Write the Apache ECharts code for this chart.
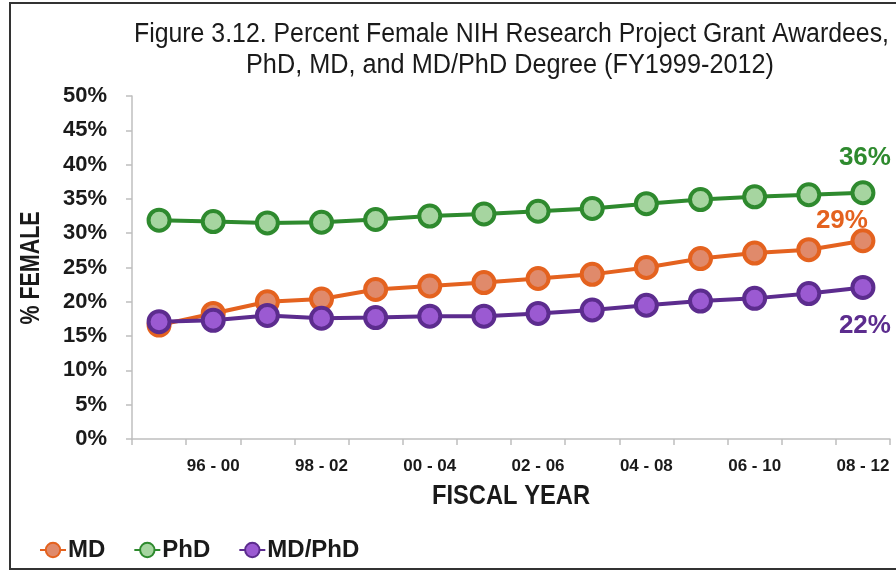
<!DOCTYPE html>
<html>
<head>
<meta charset="utf-8">
<script src="https://cdn.jsdelivr.net/npm/echarts@6/dist/echarts.min.js"></script>
<style>
html,body{margin:0;padding:0;background:#fff;}
#frame{position:absolute;left:9px;top:2px;width:900px;height:568px;border:2px solid #333;box-sizing:border-box;}
#c{position:absolute;left:0;top:0;width:896px;height:571px;}
</style>
</head>
<body>
<div id="frame"></div>
<div id="c"></div>
<script>
const categories = ['95 - 99','96 - 00','97 - 01','98 - 02','99 - 03','00 - 04','01 - 05','02 - 06','03 - 07','04 - 08','05 - 09','06 - 10','07 - 11','08 - 12'];
const mdValues =    [16.6, 18.3, 20.0, 20.4, 21.8, 22.3, 22.8, 23.4, 24.0, 25.0, 26.3, 27.1, 27.6, 28.9];
const phdValues =   [31.9, 31.7, 31.5, 31.6, 32.0, 32.5, 32.8, 33.2, 33.6, 34.3, 34.9, 35.3, 35.6, 35.9];
const mdphdValues = [17.1, 17.3, 18.0, 17.6, 17.7, 17.9, 17.9, 18.3, 18.8, 19.5, 20.1, 20.5, 21.2, 22.1];
const endLabels = {MD: '29%', PhD: '36%', 'MD/PhD': '22%'};
const yTicks = [0, 5, 10, 15, 20, 25, 30, 35, 40, 45, 50];
const titleLines = ['Figure 3.12. Percent Female NIH Research Project Grant Awardees,', 'PhD, MD, and MD/PhD Degree (FY1999-2012)'];
const xAxisTitle = 'FISCAL YEAR';
const yAxisTitle = '% FEMALE';

const SANS = '"Liberation Sans",Arial,Helvetica,sans-serif';
const DARK = '#1a1a1a';

// width measurement so that "narrow" lettering can be emulated with scaleX
const mctx = document.createElement('canvas').getContext('2d');
function measure(text, font) { mctx.font = font; return mctx.measureText(text).width; }

function narrowText(text, font, cx, cy, targetWidth, rotation) {
  const w = measure(text, font);
  return {
    type: 'text',
    x: cx, y: cy,
    rotation: rotation || 0,
    scaleX: targetWidth / w,
    silent: true,
    style: {text: text, font: font, fill: DARK, align: 'center', verticalAlign: 'middle'}
  };
}

function mkSeries(name, values, line, fill, labelOffset) {
  return {
    name: name,
    type: 'line',
    data: values.map((v, i) => {
      if (i === values.length - 1) {
        return {
          value: v,
          label: {
            show: true,
            formatter: endLabels[name],
            position: 'inside',
            offset: labelOffset,
            color: line,
            fontFamily: SANS,
            fontWeight: 'bold',
            fontSize: 26
          }
        };
      }
      return v;
    }),
    symbol: 'circle',
    symbolSize: 21,
    lineStyle: {color: line, width: 4},
    itemStyle: {color: fill, borderColor: line, borderWidth: 4},
    label: {show: false},
    emphasis: {disabled: true},
    animation: false,
    z: 2
  };
}

const titleFont = 'normal 27px ' + SANS;
const axisNameFont = 'bold 28px ' + SANS;

const chart = echarts.init(document.getElementById('c'), null, {renderer: 'canvas'});
chart.setOption({
  backgroundColor: 'transparent',
  animation: false,
  graphic: [
    narrowText(titleLines[0], titleFont, 511.5, 35, 755),
    narrowText(titleLines[1], titleFont, 510, 66, 528),
    narrowText(xAxisTitle, axisNameFont, 511, 496, 158),
    narrowText(yAxisTitle, axisNameFont, 31, 268, 113, Math.PI / 2)
  ],
  legend: {
    left: 34,
    top: 533,
    itemWidth: 26,
    itemHeight: 18,
    itemGap: 28,
    data: ['MD', 'PhD', 'MD/PhD'],
    textStyle: {fontFamily: SANS, fontWeight: 'bold', fontSize: 24, color: DARK, padding: [0, 0, 0, -3]}
  },
  grid: {left: 132, right: 6, top: 96, bottom: 132, containLabel: false},
  xAxis: {
    type: 'category',
    data: categories,
    boundaryGap: true,
    axisLine: {lineStyle: {color: '#bfbfbf', width: 1.5}},
    axisTick: {show: true, interval: 0, length: 6, lineStyle: {color: '#bfbfbf', width: 1.5}},
    axisLabel: {
      interval: (idx) => idx % 2 === 1,
      fontFamily: SANS, fontWeight: 'bold', fontSize: 17, color: DARK, margin: 19
    },
    splitLine: {show: false}
  },
  yAxis: {
    type: 'value',
    min: yTicks[0],
    max: yTicks[yTicks.length - 1],
    interval: 5,
    axisLine: {show: true, lineStyle: {color: '#bfbfbf', width: 1.5}},
    axisTick: {show: true, length: 6, lineStyle: {color: '#bfbfbf', width: 1.5}},
    axisLabel: {
      formatter: (v) => v + '%',
      fontFamily: SANS, fontWeight: 'bold', fontSize: 22, color: DARK, margin: 25
    },
    splitLine: {show: false}
  },
  series: [
    mkSeries('MD', mdValues, '#e4621f', '#e08a6b', [-21, -20]),
    mkSeries('PhD', phdValues, '#2e8a2e', '#a6d5a0', [2, -35]),
    mkSeries('MD/PhD', mdphdValues, '#5c2c8e', '#9b5ad2', [2, 38])
  ]
});
</script>
</body>
</html>
